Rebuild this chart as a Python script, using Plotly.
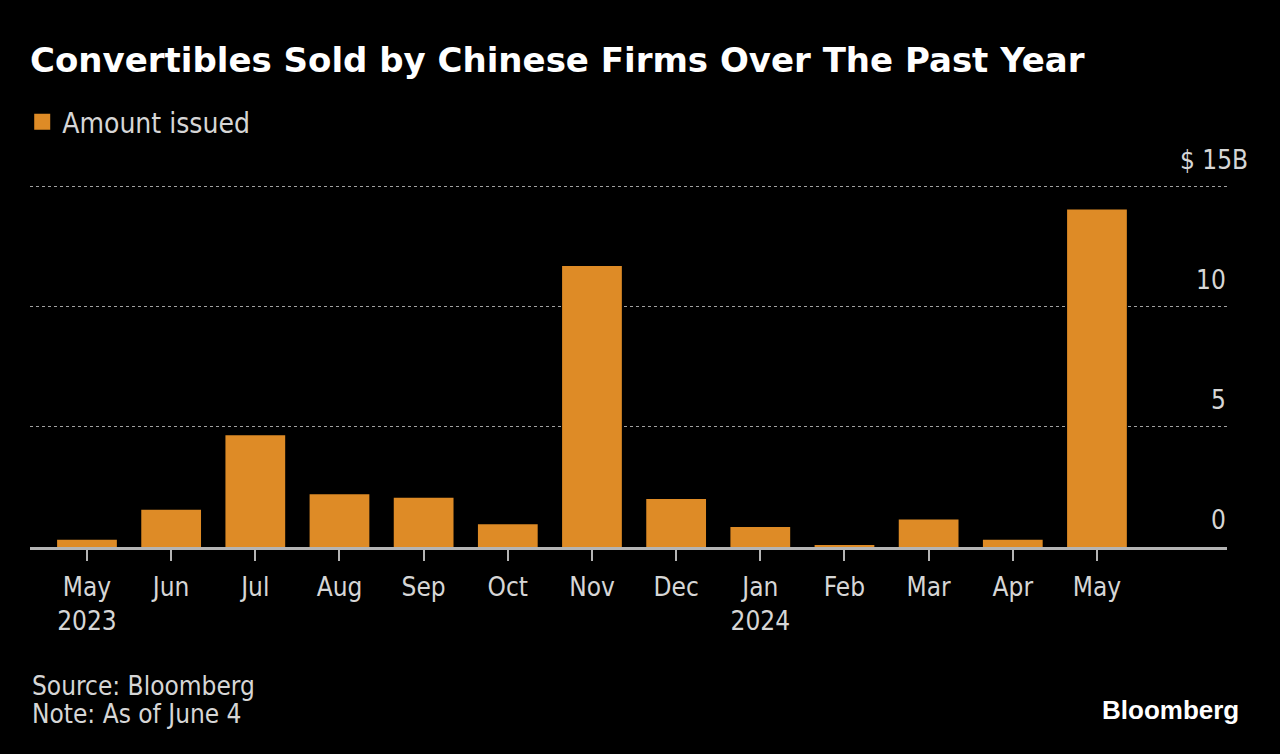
import plotly.graph_objects as go

months = ["May<br>2023", "Jun", "Jul", "Aug", "Sep", "Oct", "Nov", "Dec",
          "Jan<br>2024", "Feb", "Mar", "Apr", "May"]
amount_issued = [0.3, 1.55, 4.65, 2.2, 2.05, 0.95, 11.7, 2.0, 0.83, 0.08, 1.15, 0.3, 14.05]
y_tickvals = [0, 5, 10, 15]
y_ticktext = ["0", "5", "10", "$ 15B"]

W, H = 1280, 754
L, R, T, B = 30, 53, 182, 207
PW = W - L - R
PH = H - T - B
BODY = "DejaVu Sans Condensed, Liberation Sans Narrow, sans-serif"
BAR_COLOR = "#DE8B26"
TEXT = "#d6d6d6"

x_idx = list(range(len(months)))

fig = go.Figure()
fig.add_trace(go.Bar(
    x=x_idx, y=amount_issued, name="Amount issued",
    marker=dict(color=BAR_COLOR, line=dict(width=0)),
    width=0.71, showlegend=False,
))
# legend-only entry with a larger square swatch
fig.add_trace(go.Scatter(
    x=[None], y=[None], mode="markers", name="Amount issued",
    marker=dict(symbol="square", size=19, color=BAR_COLOR),
    showlegend=True,
))

fig.update_layout(
    width=W, height=H,
    paper_bgcolor="black", plot_bgcolor="black",
    margin=dict(l=L, r=R, t=T, b=B),
    title=dict(text="<b>Convertibles Sold by Chinese Firms Over The Past Year</b>",
               font=dict(family="DejaVu Sans, sans-serif", size=34, color="white"),
               x=30 / W, xanchor="left", xref="container",
               y=1 - 60 / H, yanchor="middle", yref="container"),
    showlegend=True,
    legend=dict(x=-0.0065, xanchor="left", y=(H - 122 - B) / PH, yanchor="middle",
                orientation="h", bgcolor="rgba(0,0,0,0)",
                font=dict(family=BODY, size=28, color=TEXT),
                itemwidth=30),
    font=dict(family=BODY, color=TEXT),
)

fig.update_xaxes(
    range=[-0.677, 13.545], tickmode="array", tickvals=x_idx, ticktext=months,
    showline=True, linecolor="#b4b4b4", linewidth=2.5,
    ticks="outside", ticklen=11, tickwidth=2, tickcolor="#b4b4b4",
    ticklabelstandoff=4,
    showgrid=False, zeroline=False,
    tickfont=dict(family=BODY, size=26, color=TEXT),
)
fig.update_yaxes(
    range=[0, 15.2], tickmode="array", tickvals=y_tickvals,
    showticklabels=False,
    showgrid=True, gridcolor="#a0a0a0", griddash="3px,3px", gridwidth=1.3,
    zeroline=False, showline=False, ticks="",
)

# y tick labels sit above their gridlines, numbers right-aligned at the plot edge
for v, t in zip(y_tickvals, y_ticktext):
    right_px = 1250 if t.endswith("B") else 1228
    fig.add_annotation(text=t, xref="paper", yref="y",
                       x=(right_px - L) / PW, xanchor="right",
                       y=v, yanchor="bottom", yshift=10, showarrow=False,
                       font=dict(family=BODY, size=26, color=TEXT))

fig.add_annotation(text="Source: Bloomberg",
                   xref="paper", yref="paper", x=0, xanchor="left",
                   y=-(686 - (H - B)) / PH, yanchor="middle", showarrow=False, align="left",
                   font=dict(family=BODY, size=26, color=TEXT))
fig.add_annotation(text="Note: As of June 4",
                   xref="paper", yref="paper", x=0, xanchor="left",
                   y=-(714 - (H - B)) / PH, yanchor="middle", showarrow=False, align="left",
                   font=dict(family=BODY, size=26, color=TEXT))
fig.add_annotation(text="<b>Bloomberg</b>",
                   xref="paper", yref="paper", x=(1241 - L) / PW, xanchor="right",
                   y=-(710 - (H - B)) / PH, yanchor="middle", showarrow=False,
                   font=dict(family="Liberation Sans Narrow, sans-serif", size=26, color="white"))

fig.write_html("out.html", config={"displayModeBar": False},
               post_script="document.body.style.margin='0';document.body.style.background='black';")
